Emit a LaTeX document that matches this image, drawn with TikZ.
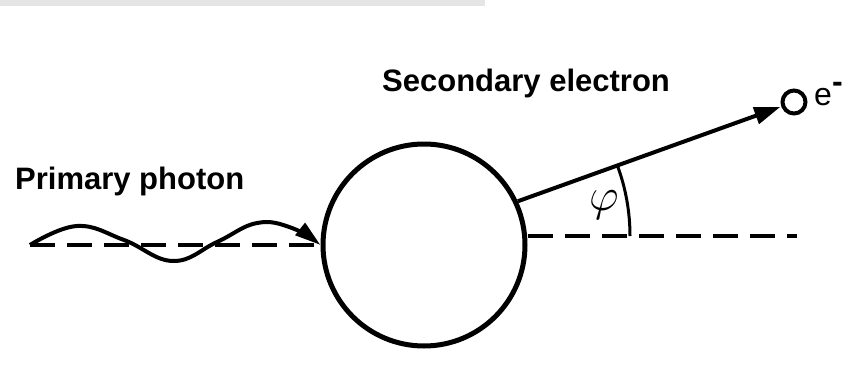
\documentclass[tikz,border=0pt]{standalone}
\usepackage{fontspec}
\setmainfont{Liberation Sans}
\usepackage{graphicx}
\usepackage{tikz}
\usetikzlibrary{arrows.meta, positioning, calc}
\tikzset{
  label/.style={font=\fontsize{31}{36}\selectfont\bfseries, inner sep=0pt},
  body/.style={draw, circle, line width=5pt, minimum size=202pt, inner sep=0pt},
  dashline/.style={dash pattern=on 25pt off 12pt, line width=4pt},
  wave/.style={line width=4pt, -{Triangle[length=26pt, width=15pt]}},
  track/.style={line width=4pt, -{Triangle[length=26pt, width=17pt]}, shorten >=1pt}
}

\begin{document}
\begin{tikzpicture}[x=1pt, y=-1pt]
        \useasboundingbox (0,0) rectangle (852,383);
        \fill[black!10] (0,0) rectangle (485,6);

        % Target and particles
        \node[body] (atom) at (424,245) {};
        \node[draw, circle, line width=4pt, minimum size=23pt, inner sep=0pt] (el) at (794,102) {};
        \node[anchor=west, font=\fontsize{32}{36}\selectfont, inner sep=0pt] (elabel) at (814,94)
          {e\raisebox{0.42em}{\bfseries -}};
        \coordinate (src) at (30,245);
        \coordinate (out) at (797,236);
        \coordinate (vertex) at (427,236);

        % Labels
        \node[label, anchor=base west] (primary) at (15,189) {Primary photon};
        \node[label, anchor=base west] (secondary) at (382,91) {Secondary electron};

        % Axis
        \draw[dashline] (src) -- (atom);
        \draw[dashline] (atom.east |- out) -- (out);

        % Incoming photon
        \draw[wave] plot[smooth, tension=0.7] coordinates
          {(src) (77,226) (124,240) (173,261) (217,242) (257,223) (292,228) (atom.west)};

        % Outgoing electron
        \draw[track] (atom.25) -- (el);

        % Angle
        \draw[line width=3pt] (vertex) ++(-20:203) arc[start angle=-20, end angle=0, radius=203];
        \node[font=\fontsize{24}{28}\selectfont] (phi) at (604,205) {\scalebox{1.85}{$\varphi$}};
    \end{tikzpicture}
\end{document}
